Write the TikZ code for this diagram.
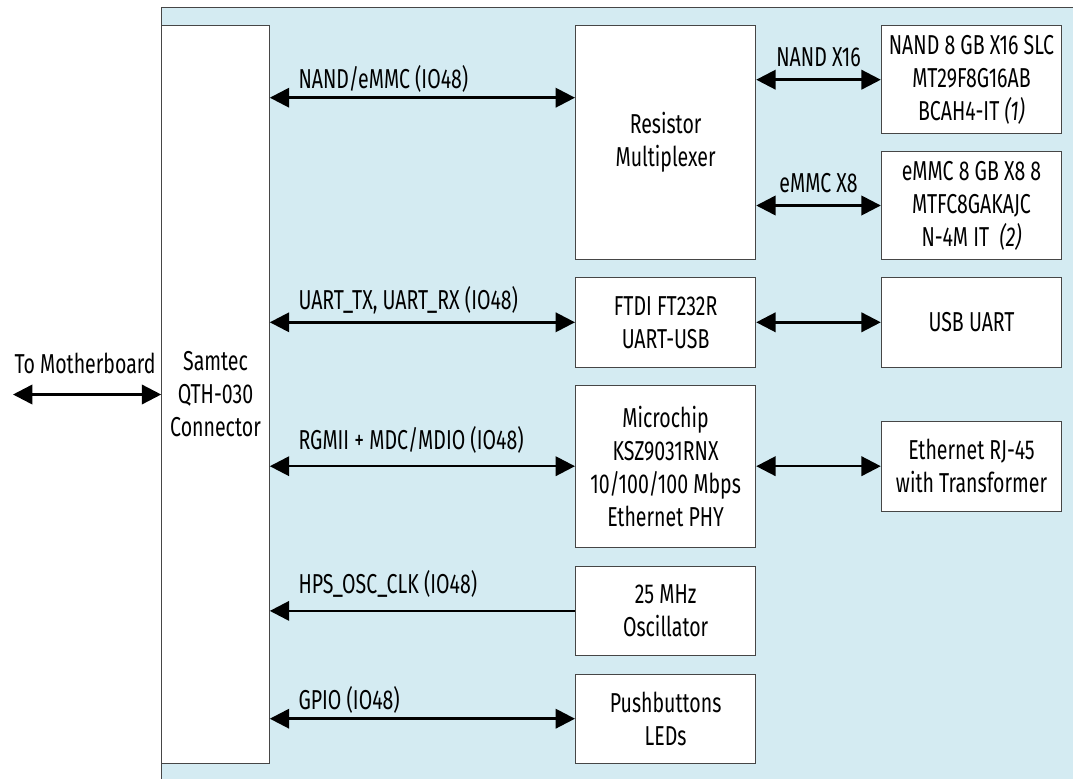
\documentclass[tikz,border=0pt]{standalone}
\usepackage{fontspec}
\setmainfont{Fira Sans}[FakeStretch=0.715]
\usetikzlibrary{arrows.meta}

\definecolor{panelblue}{RGB}{212,235,242}
\definecolor{boxgray}{RGB}{70,70,70}

\tikzset{every picture/.style={line width=0.75pt}}
\tikzset{
	blk/.style={draw=boxgray, fill=white, align=center, inner sep=0pt, font=\fontsize{20.5}{24.75}\selectfont},
	bus/.style={line width=1.9pt, {Triangle[length=14.5pt,width=14.5pt]}-{Triangle[length=14.5pt,width=14.5pt]}},
	busin/.style={line width=1.9pt, {Triangle[length=14.5pt,width=14.5pt]}-},
	lbl/.style={anchor=base west, inner sep=0.75pt, font=\fontsize{20.5}{24.75}\selectfont},
	buslbl/.style={midway, above, inner sep=0.75pt, yshift=8pt, font=\fontsize{20.5}{24.75}\selectfont}
}

\begin{document}
\begin{tikzpicture}[x=0.75pt,y=0.75pt,yscale=-1,xscale=1]
				\useasboundingbox (0,0) rectangle (1073,778);
				%Shape: Rectangle (blue panel)
				\draw [draw=boxgray, fill=panelblue] (161.5,7.3) rectangle (1090,800);
				
				%Blocks
				\node [blk, minimum width=80.7pt, minimum height=552.8pt] (samtec) at (215.5,394.5) {Samtec\\QTH-030\\Connector};
				\node [blk, minimum width=135.2pt, minimum height=175.2pt] (mux) at (665.6,142.5) {Resistor\\Multiplexer};
				\node [blk, minimum width=135.3pt, minimum height=81pt] (nand) at (971.5,79.7) {NAND 8 GB X16 SLC\\MT29F8G16AB\\BCAH4-IT \textit{(1)}};
				\node [blk, minimum width=135.3pt, minimum height=80.7pt] (emmc) at (971.5,205.5) {eMMC 8 GB X8 8\\MTFC8GAKAJC\\N-4M IT~ \textit{(2)}};
				\node [blk, minimum width=135.2pt, minimum height=67.5pt] (ftdi) at (665.6,322.3) {FTDI FT232R\\UART-USB};
				\node [blk, minimum width=135.3pt, minimum height=67.5pt] (usb) at (971.5,322.3) {USB UART};
				\node [blk, minimum width=135.2pt, minimum height=121.7pt] (phy) at (665.6,466.2) {Microchip\\KSZ9031RNX\\10/100/100 Mbps\\Ethernet PHY};
				\node [blk, minimum width=135.3pt, minimum height=67pt] (rj45) at (971.5,466.4) {Ethernet RJ-45\\with Transformer};
				\node [blk, minimum width=135.2pt, minimum height=67.3pt] (osc) at (665.6,610.9) {25 MHz\\Oscillator};
				\node [blk, minimum width=135.2pt, minimum height=67pt] (btn) at (665.6,718.7) {Pushbuttons\\LEDs};
				
				%Free ends
				\coordinate (mb) at (13,394.5);
				\coordinate (nandrow) at (0,97.7);
				
				%Connectors
				\draw [bus] (mb) -- (samtec.west);
				\draw [bus] (samtec.east |- nandrow) -- (mux.west |- nandrow);
				\draw [bus] (mux.east |- nand.west) -- (nand.west) node [buslbl] (lblx16) {NAND X16};
				\draw [bus] (mux.east |- emmc.west) -- (emmc.west) node [buslbl] (lblx8) {eMMC X8};
				\draw [bus] (samtec.east |- ftdi.west) -- (ftdi.west);
				\draw [bus] (ftdi.east) -- (usb.west);
				\draw [bus] (samtec.east |- phy.west) -- (phy.west);
				\draw [bus] (phy.east) -- (phy.east -| rj45.west);
				\draw [busin] (samtec.east |- osc.west) -- (osc.west);
				\draw [bus] (samtec.east |- btn.west) -- (btn.west);
				
				% Text Node
				\draw (13,373) node [lbl] (lblmb) {To Motherboard};
				% Text Node
				\draw (297,88.3) node [lbl] (lblnandemmc) {NAND/eMMC (IO48)};
				% Text Node
				\draw (297,309.3) node [lbl] (lbluart) {UART\_TX, UART\_RX (IO48)};
				% Text Node
				\draw (297,449.3) node [lbl] (lblrgmii) {RGMII + MDC/MDIO (IO48)};
				% Text Node
				\draw (297,593) node [lbl] (lblclk) {HPS\_OSC\_CLK (IO48)};
				% Text Node
				\draw (297,709) node [lbl] (lblgpio) {GPIO (IO48)};
\end{tikzpicture}
\end{document}
